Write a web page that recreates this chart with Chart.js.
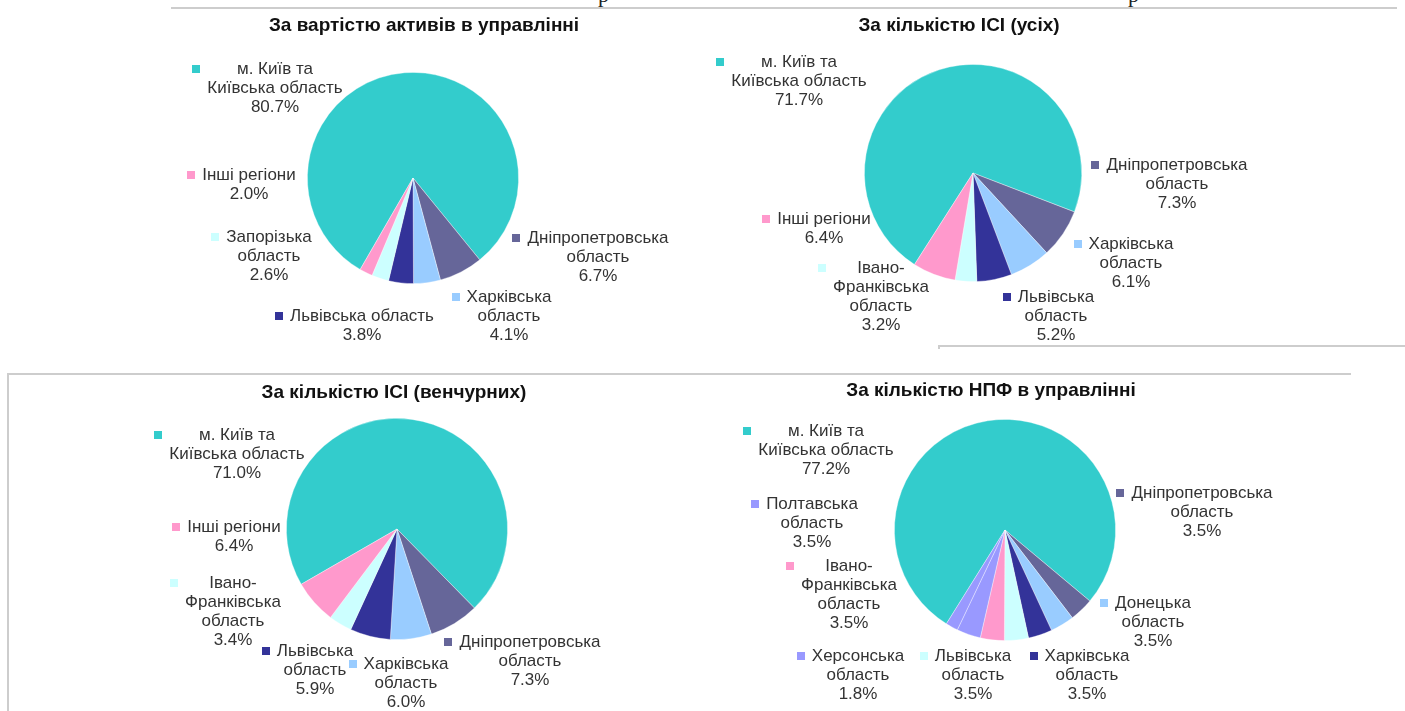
<!DOCTYPE html>
<html lang="uk">
<head>
<meta charset="UTF-8">
<title>Регіональний розподіл КУА</title>
<script src="https://cdn.jsdelivr.net/npm/chart.js"></script>
<style>
  body { margin: 0; background: #fff; width: 1405px; height: 711px; position: relative; overflow: hidden; }
  .panel { position: absolute; }
  .rule { position: absolute; background: #cdcdcd; }
  .frag { position: absolute; font-family: "Liberation Serif", serif; font-size: 22px; line-height: 22px; color: #222; }
</style>
</head>
<body>
<!-- обрізані краї сторінки документа -->
<div class="frag" style="left:598px; top:-16px">р</div>
<div class="frag" style="left:1128px; top:-16px">р</div>
<div class="rule" style="left:171px; top:7px; width:1226px; height:2px"></div>
<div class="rule" style="left:938px; top:345px; width:467px; height:2px"></div>
<div class="rule" style="left:938px; top:345px; width:2px; height:4px"></div>
<div class="rule" style="left:7px; top:373px; width:1344px; height:2px"></div>
<div class="rule" style="left:7px; top:373px; width:2px; height:338px"></div>

<canvas id="c1" class="panel" width="700" height="356" style="left:0; top:0"></canvas>
<canvas id="c2" class="panel" width="705" height="356" style="left:700px; top:0"></canvas>
<canvas id="c3" class="panel" width="700" height="356" style="left:0; top:355px"></canvas>
<canvas id="c4" class="panel" width="705" height="356" style="left:700px; top:355px"></canvas>

<script>
    // --- дані ---
    const kyiv = ['м. Київ та', 'Київська область'];
    const dnipro = ['Дніпропетровська', 'область'];
    const kharkiv = ['Харківська', 'область'];
    const lviv2 = ['Львівська', 'область'];
    const ivano = ['Івано-', 'Франківська', 'область'];
    const other = ['Інші регіони'];

    const assetsLabels = [kyiv, dnipro, kharkiv, ['Львівська область'], ['Запорізька', 'область'], other];
    const assetsValues = [80.7, 6.7, 4.1, 3.8, 2.6, 2.0];

    const allLabels = [kyiv, dnipro, kharkiv, lviv2, ivano, other];
    const allValues = [71.7, 7.3, 6.1, 5.2, 3.2, 6.4];

    const ventureLabels = [kyiv, dnipro, kharkiv, lviv2, ivano, other];
    const ventureValues = [71.0, 7.3, 6.0, 5.9, 3.4, 6.4];

    const npfLabels = [kyiv, dnipro, ['Донецька', 'область'], kharkiv, lviv2, ivano, ['Полтавська', 'область'], ['Херсонська', 'область']];
    const npfValues = [77.2, 3.5, 3.5, 3.5, 3.5, 3.5, 3.5, 1.8];

    // --- кольори ---
    const TEAL = '#33cccc', SLATE = '#666699', SKY = '#99ccff', NAVY = '#333399',
          ICE = '#ccffff', PINK = '#ff99cc', LAV = '#9999ff';
    const sixColors = [TEAL, SLATE, SKY, NAVY, ICE, PINK];
    const npfColors = [TEAL, SLATE, SKY, NAVY, ICE, PINK, LAV, LAV];

    const TEXT = '#333333';
    const FONT = '"Liberation Sans", Arial, sans-serif';

    // підписи: зміщення від центру круга (центр першого рядка)
    const labelsPlugin = {
        id: 'sliceLabels',
        afterDraw(chart, args, opts) {
            const arc = chart.getDatasetMeta(0).data[0];
            const cx = arc.x, cy = arc.y;
            const ctx = chart.ctx;
            const ds = chart.data.datasets[0];
            ctx.save();
            ctx.textAlign = 'center';
            ctx.textBaseline = 'middle';

            ctx.fillStyle = '#111';
            ctx.font = 'bold 19px ' + FONT;
            ctx.fillText(opts.title, cx + opts.titleAt[0], cy + opts.titleAt[1]);

            ctx.font = '17px ' + FONT;
            chart.data.labels.forEach((lab, i) => {
                const lines = [...lab, ds.data[i].toFixed(1) + '%'];
                const x = cx + opts.offsets[i][0];
                const y = cy + opts.offsets[i][1];
                const w = Math.max(...lines.map(s => ctx.measureText(s).width));
                ctx.fillStyle = TEXT;
                lines.forEach((s, k) => ctx.fillText(s, x, y + k * 19));
                ctx.fillStyle = ds.backgroundColor[i];
                ctx.fillRect(Math.round(x - w / 2 - 15), Math.round(y - 4), 8, 8);
            });
            ctx.restore();
        }
    };

    function makePie(id, labels, values, colors, box, rotation, title, titleAt, offsets) {
        const canvas = document.getElementById(id);
        const W = canvas.width, H = canvas.height;
        return new Chart(canvas, {
            type: 'pie',
            data: {
                labels: labels,
                datasets: [{
                    data: values,
                    backgroundColor: colors,
                    borderColor: 'rgba(255,255,255,0.45)',
                    borderWidth: 0.8
                }]
            },
            options: {
                responsive: false,
                animation: false,
                rotation: rotation,
                layout: {
                    padding: {
                        left: box.cx - box.r,
                        right: W - box.cx - box.r,
                        top: box.cy - box.r,
                        bottom: H - box.cy - box.r
                    }
                },
                plugins: {
                    legend: { display: false },
                    tooltip: { enabled: false },
                    sliceLabels: { title: title, titleAt: titleAt, offsets: offsets }
                }
            },
            plugins: [labelsPlugin]
        });
    }

    makePie('c1', assetsLabels, assetsValues, sixColors,
        { cx: 413, cy: 178, r: 106 }, 210,
        'За вартістю активів в управлінні', [11, -152],
        [[-138, -109], [185, 60], [96, 119], [-51, 138], [-144, 59], [-164, -3]]);

    makePie('c2', allLabels, allValues, sixColors,
        { cx: 273, cy: 173, r: 109 }, 212.6,
        'За кількістю ІСІ (усіх)', [-14, -147],
        [[-174, -111], [204, -8], [158, 71], [83, 124], [-92, 95], [-149, 46]]);

    makePie('c3', ventureLabels, ventureValues, sixColors,
        { cx: 397, cy: 174, r: 111 }, 240,
        'За кількістю ІСІ (венчурних)', [-3, -136],
        [[-160, -94], [133, 113], [9, 135], [-82, 122], [-164, 54], [-163, -2]]);

    makePie('c4', npfLabels, npfValues, npfColors,
        { cx: 305, cy: 175, r: 111 }, 212,
        'За кількістю НПФ в управлінні', [-14, -139],
        [[-179, -99], [197, -37], [148, 73], [82, 126], [-32, 126], [-156, 36], [-193, -26], [-147, 126]]);
</script>
</body>
</html>
